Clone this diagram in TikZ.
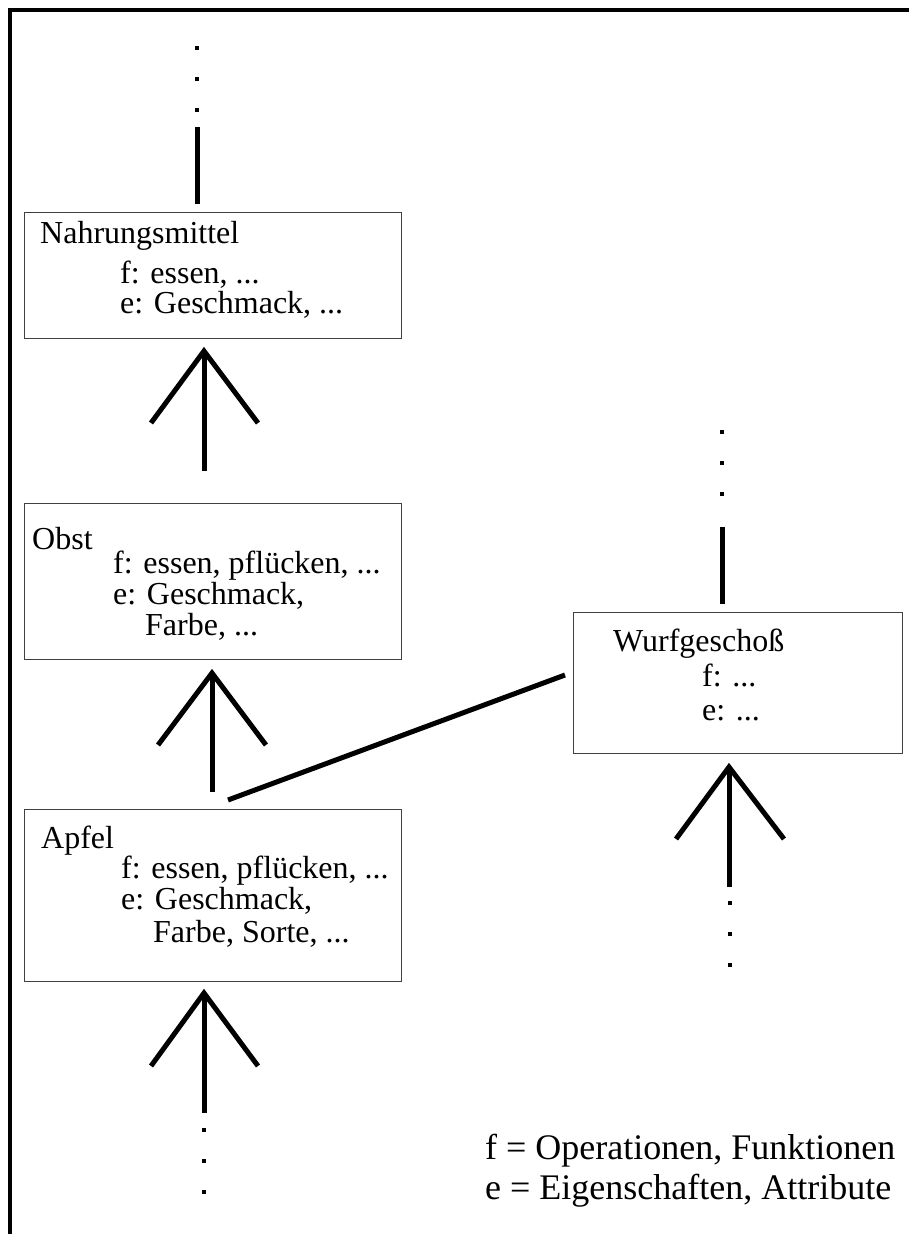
\documentclass[tikz,border=0pt]{standalone}
\usepackage{fontspec}
\setmainfont{Liberation Serif}
\begin{document}
\begin{tikzpicture}[x=1pt,y=-1pt,
  box/.style={draw=black!75, line width=1.3pt, inner sep=0pt, anchor=north west},
  txt/.style={anchor=base west, inner sep=0pt, font=\fontsize{32}{38}\selectfont},
  leg/.style={anchor=base west, inner sep=0pt, font=\fontsize{36}{40}\selectfont},
  bold line/.style={line width=5pt},
  dotmark/.style={fill=black, draw=none, rectangle, minimum size=4.5pt, inner sep=0pt}
]
\useasboundingbox (0,0) rectangle (909,1234);
% frame (cropped)
\draw[line width=4pt] (9.5,1240) -- (9.5,9.5) -- (915,9.5);

% boxes
\node[box, minimum width=377pt, minimum height=126pt] (nahr) at (24,212) {};
\node[box, minimum width=377pt, minimum height=156pt] (obst) at (24,503) {};
\node[box, minimum width=377pt, minimum height=172pt] (apfel) at (24,809) {};
\node[box, minimum width=329pt, minimum height=141pt] (wurf) at (573,612) {};

% texts
\node[txt] (nahrT) at (40,243) {Nahrungsmittel};
\node[txt] (nahrF) at (120,283) {f: essen, ...};
\node[txt] (nahrE) at (120,313) {e: Geschmack, ...};

\node[txt] (obstT) at (32,549) {Obst};
\node[txt] (obstF) at (113,573) {f: essen, pflücken, ...};
\node[txt] (obstE) at (113,604) {e: Geschmack,};
\node[txt] (obstE2) at (145,635) {Farbe, ...};

\node[txt] (apfelT) at (41,848) {Apfel};
\node[txt] (apfelF) at (121,878) {f: essen, pflücken, ...};
\node[txt] (apfelE) at (121,909) {e: Geschmack,};
\node[txt] (apfelE2) at (153,942) {Farbe, Sorte, ...};

\node[txt] (wurfT) at (613,651) {Wurfgeschoß};
\node[txt] (wurfF) at (702,686) {f: ...};
\node[txt] (wurfE) at (702,720) {e: ...};

\node[leg] (legF) at (485,1159) {f = Operationen, Funktionen};
\node[leg] (legE) at (485,1199) {e = Eigenschaften, Attribute};

% top of Nahrungsmittel
\node[dotmark] (d1) at (197,48) {};
\node[dotmark] (d2) at (197,79) {};
\node[dotmark] (d3) at (197,110) {};
\coordinate (nTop1) at (197,127);
\coordinate (nTop2) at (197,204);
\draw[bold line] (nTop1) -- (nTop2);

% arrow Obst -> Nahrungsmittel
\coordinate (a1tip) at (204,351);
\coordinate (a1bot) at (204,471);
\coordinate (a1l) at (151,423);
\coordinate (a1r) at (258,423);
\draw[bold line] (a1bot) -- (a1tip);
\draw[bold line] (a1l) -- (a1tip) -- (a1r);

% arrow Apfel -> Obst
\coordinate (a2tip) at (212,673);
\coordinate (a2bot) at (212,792);
\coordinate (a2l) at (158,745);
\coordinate (a2r) at (266,745);
\draw[bold line] (a2bot) -- (a2tip);
\draw[bold line] (a2l) -- (a2tip) -- (a2r);

% Apfel -- Wurfgeschoss
\coordinate (lA) at (228,800);
\coordinate (lW) at (565,675);
\draw[bold line] (lA) -- (lW);

% arrow below Apfel
\coordinate (a3tip) at (204,993);
\coordinate (a3bot) at (204,1113);
\coordinate (a3l) at (151,1066);
\coordinate (a3r) at (258,1066);
\draw[bold line] (a3bot) -- (a3tip);
\draw[bold line] (a3l) -- (a3tip) -- (a3r);
\node[dotmark] (d4) at (204,1130) {};
\node[dotmark] (d5) at (204,1161) {};
\node[dotmark] (d6) at (204,1192) {};

% top of Wurfgeschoss
\node[dotmark] (d7) at (722,432) {};
\node[dotmark] (d8) at (722,463) {};
\node[dotmark] (d9) at (722,494) {};
\coordinate (wTop1) at (722,527);
\coordinate (wTop2) at (722,604);
\draw[bold line] (wTop1) -- (wTop2);

% arrow below Wurfgeschoss
\coordinate (a4tip) at (729,767);
\coordinate (a4bot) at (729,887);
\coordinate (a4l) at (676,839);
\coordinate (a4r) at (784,839);
\draw[bold line] (a4bot) -- (a4tip);
\draw[bold line] (a4l) -- (a4tip) -- (a4r);
\node[dotmark] (d10) at (730,903) {};
\node[dotmark] (d11) at (730,934) {};
\node[dotmark] (d12) at (730,965) {};
\end{tikzpicture}
\end{document}
